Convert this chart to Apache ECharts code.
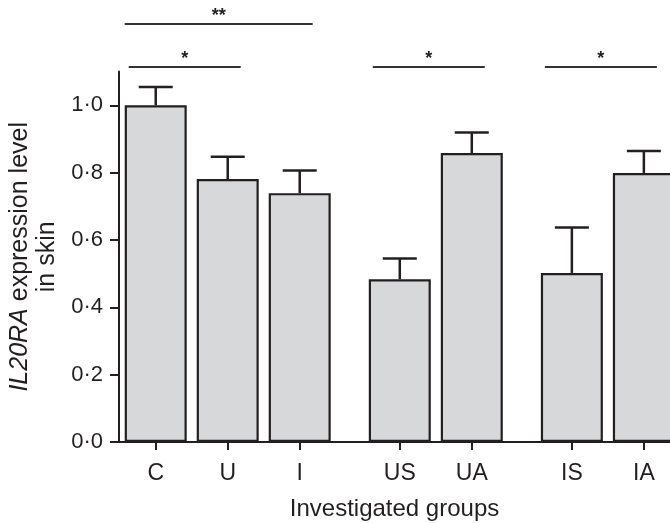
<!DOCTYPE html>
<html>
<head>
<meta charset="utf-8">
<script src="https://cdn.jsdelivr.net/npm/echarts@6/dist/echarts.min.js"></script>
<style>
  html, body { margin: 0; padding: 0; background: #fff; }
  #chartone { width: 670px; height: 523px; }
</style>
</head>
<body>
<div id="chartone"></div>
<script>
// groups of bars, as laid out on the x axis
var groups = [['C', 'U', 'I'], ['US', 'UA'], ['IS', 'IA']];
var categories = ['C', 'U', 'I', 'US', 'UA', 'IS', 'IA'];
// mean expression and upper error (SEM)
var means = [1.0, 0.781, 0.739, 0.483, 0.858, 0.502, 0.799];
var errors = [0.054, 0.066, 0.067, 0.062, 0.061, 0.135, 0.065];
var yTicks = [0, 0.2, 0.4, 0.6, 0.8, 1.0];
// significance brackets
var sigFrom = ['C', 'C', 'US', 'IS'];
var sigTo = ['I', 'U', 'UA', 'IA'];
var sigLevel = [2, 1, 1, 1];
var sigMark = ['**', '*', '*', '*'];

var FONT = "'Liberation Sans', Arial, Helvetica, sans-serif";
var INK = '#231f20';
var GROUP_GAP = 1.39;

// x position of every category (1 unit per bar, wider gap between groups)
var xPos = {};
var cur = 0;
groups.forEach(function (g, gi) {
  if (gi > 0) cur += GROUP_GAP - 1;
  g.forEach(function (name) {
    xPos[name] = cur;
    cur += 1;
  });
});
var xValues = categories.map(function (c) { return xPos[c]; });

function catName(v) {
  for (var i = 0; i < categories.length; i++) {
    if (Math.abs(xPos[categories[i]] - v) < 1e-6) return categories[i];
  }
  return '';
}

var chartDom = document.getElementById('chartone');
var myChart = echarts.init(chartDom);
var option;

option = {
  animation: false,
  grid: { left: 119, right: 0, top: 71.6, bottom: 81, outerBoundsMode: 'none', containLabel: false },
  xAxis: {
    type: 'value',
    min: -0.51,
    max: 7.143,
    name: 'Investigated groups',
    nameLocation: 'middle',
    nameGap: 55,
    nameTextStyle: { color: INK, fontSize: 24, fontFamily: FONT },
    axisLine: { show: true, onZero: false, lineStyle: { color: INK, width: 2 } },
    axisTick: { show: true, length: 8, customValues: xValues, lineStyle: { color: INK, width: 2 } },
    axisLabel: {
      customValues: xValues,
      formatter: catName,
      color: INK, fontSize: 23, fontFamily: FONT, margin: 20
    },
    splitLine: { show: false }
  },
  yAxis: {
    type: 'value',
    min: 0,
    max: 1.1,
    name: '{it|IL20RA} expression level\nin skin',
    nameLocation: 'middle',
    nameGap: 58,
    nameTextStyle: {
      color: INK, fontSize: 25, fontFamily: FONT, lineHeight: 27,
      rich: { it: { fontStyle: 'italic', fontSize: 25, fontFamily: FONT, color: INK } }
    },
    axisLine: { show: true, onZero: false, lineStyle: { color: INK, width: 2 } },
    axisTick: { show: true, length: 9, customValues: yTicks, lineStyle: { color: INK, width: 2 } },
    axisLabel: {
      customValues: yTicks,
      formatter: function (v) { return v.toFixed(1).replace('.', '·'); },
      color: INK, fontSize: 22, fontFamily: FONT, margin: 16
    },
    splitLine: { show: false }
  },
  series: [
    {
      type: 'bar',
      barWidth: 62,
      data: categories.map(function (c, i) { return [xPos[c], means[i]]; }),
      itemStyle: { color: '#d7d8da', borderColor: INK, borderWidth: 2.2 },
      z: 2
    },
    {
      type: 'custom',
      z: 3,
      data: categories.map(function (c, i) { return [xPos[c], means[i], errors[i]]; }),
      renderItem: function (params, api) {
        var base = api.coord([api.value(0), api.value(1)]);
        var top = api.coord([api.value(0), api.value(1) + api.value(2)]);
        var half = 17;
        return {
          type: 'group',
          children: [
            { type: 'line', shape: { x1: base[0], y1: base[1], x2: top[0], y2: top[1] },
              style: { stroke: INK, lineWidth: 2.5 } },
            { type: 'line', shape: { x1: top[0] - half, y1: top[1], x2: top[0] + half, y2: top[1] },
              style: { stroke: INK, lineWidth: 2.5 } }
          ]
        };
      }
    },
    {
      type: 'custom',
      clip: false,
      z: 4,
      data: sigFrom.map(function (f, i) { return [xPos[f], xPos[sigTo[i]], sigLevel[i], sigMark[i]]; }),
      renderItem: function (params, api) {
        var topY = api.coord([0, 1.1])[1];
        var y = topY - 4.5 - (api.value(2) - 1) * 43;
        var x1 = api.coord([api.value(0), 0])[0] - (api.value(2) > 1 ? 31 : 27);
        var x2 = api.coord([api.value(1), 0])[0] + 13;
        return {
          type: 'group',
          children: [
            { type: 'line', shape: { x1: x1, y1: y, x2: x2, y2: y },
              style: { stroke: '#333', lineWidth: 2 } },
            { type: 'text', x: (x1 + x2) / 2, y: y + 1,
              style: { text: sigMark[params.dataIndex], fill: INK, fontSize: 18, fontWeight: 'bold',
                fontFamily: FONT, align: 'center', verticalAlign: 'bottom' } }
          ]
        };
      }
    }
  ]
};

option && myChart.setOption(option);
</script>
</body>
</html>
